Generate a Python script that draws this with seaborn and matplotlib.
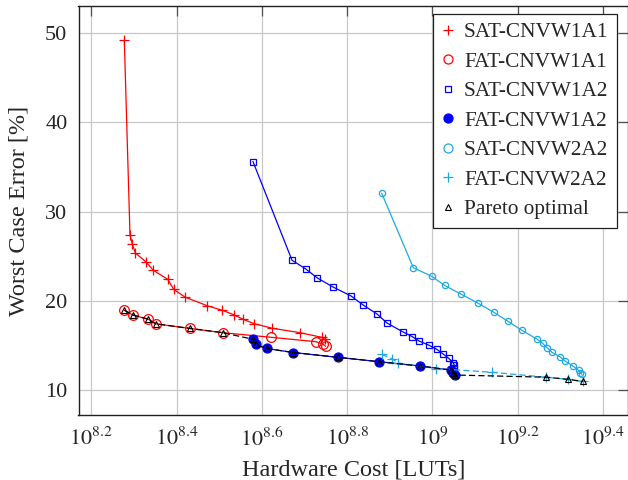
import numpy as np
import matplotlib
matplotlib.use("Agg")
import matplotlib.pyplot as plt
from matplotlib.lines import Line2D
import seaborn as sns

# Hardware cost given as exponent of 10 (LUTs), worst case error in percent
sat_w1a1_exp = [8.2774, 8.2907, 8.2961, 8.3032, 8.3276, 8.3454, 8.3791, 8.3932, 8.4204,
                8.472, 8.5072, 8.5339, 8.5557, 8.5815, 8.6244, 8.6893, 8.7402, 8.748]
sat_w1a1_err = [49.2, 27.43, 26.39, 25.38, 24.40, 23.44, 22.43, 21.31, 20.42,
                19.47, 18.96, 18.47, 17.96, 17.47, 16.95, 16.46, 15.94, 15.72]

fat_w1a1_exp = [8.2778, 8.2971, 8.3334, 8.351, 8.4319, 8.5081, 8.622, 8.7269, 8.7426, 8.7496]
fat_w1a1_err = [18.96, 18.44, 17.96, 17.45, 16.93, 16.46, 15.94, 15.45, 15.19, 14.94]

sat_w1a2_exp = [8.5791, 8.6706, 8.7027, 8.7299, 8.7667, 8.8089, 8.8371, 8.8699, 8.8933, 8.9308,
                8.952, 8.9684, 8.9918, 9.0106, 9.0239, 9.038, 9.0488, 9.0511, 9.0504]
sat_w1a2_err = [35.6, 24.56, 23.59, 22.58, 21.57, 20.57, 19.56, 18.55, 17.54, 16.54,
                16.03, 15.53, 15.05, 14.58, 14.11, 13.59, 13.10, 12.84, 12.54]

fat_w1a2_exp = [8.578, 8.5855, 8.6108, 8.6736, 8.7789, 8.8753, 8.9707, 9.0427, 9.0488, 9.0521]
fat_w1a2_err = [15.73, 15.14, 14.69, 14.24, 13.70, 13.21, 12.73, 12.28, 11.98, 11.72]

sat_w2a2_exp = [8.8809, 8.955, 8.9988, 9.0286, 9.0675, 9.1071, 9.1437, 9.177, 9.2091, 9.2445,
                9.2586, 9.2692, 9.2802, 9.2994, 9.3118, 9.3283, 9.3428, 9.347, 9.3498]
sat_w2a2_err = [32.06, 23.73, 22.75, 21.74, 20.76, 19.75, 18.74, 17.73, 16.74, 15.75,
                15.25, 14.75, 14.26, 13.74, 13.26, 12.76, 12.23, 11.97, 11.80]

fat_w2a2_exp = [8.8809, 8.9062, 8.9191, 9.0082, 9.1395, 9.2654, 9.3184, 9.3522]
fat_w2a2_err = [14.04, 13.51, 13.07, 12.45, 12.03, 11.48, 11.24, 11.00]

pareto_exp = [8.2778, 8.2971, 8.3334, 8.351, 8.4319, 8.5081,
              8.578, 8.5855, 8.6108, 8.6736, 8.7789, 8.8753, 8.9707, 9.0427, 9.0488, 9.0521,
              9.2654, 9.3184, 9.3522]
pareto_err = [18.96, 18.44, 17.96, 17.45, 16.93, 16.46,
              15.73, 15.14, 14.69, 14.24, 13.70, 13.21, 12.73, 12.28, 11.98, 11.72,
              11.48, 11.24, 11.00]

xtick_exp = [8.2, 8.4, 8.6, 8.8, 9.0, 9.2, 9.4]
xtick_labels = [r"$10^{8.2}$", r"$10^{8.4}$", r"$10^{8.6}$", r"$10^{8.8}$",
                r"$10^{9}$", r"$10^{9.2}$", r"$10^{9.4}$"]
ytick_vals = [10, 20, 30, 40, 50]

RED = "#ff0000"
BLUE = "#0000ff"
CYAN = "#1ea8e4"

sns.set_style("whitegrid", {"grid.color": "#c8c8c8", "axes.edgecolor": "#202020"})
plt.rcParams["font.family"] = ["Liberation Serif", "DejaVu Serif"]
plt.rcParams["mathtext.fontset"] = "stix"

W, H = 628, 480
left, right, top, bottom = 78.5, 628.0, 6.0, 415.0
fig = plt.figure(figsize=(W / 100, H / 100), dpi=100)
ax = fig.add_axes([left / W, (H - bottom) / H, (right - left) / W, (bottom - top) / H])

series = [
    ("SAT-CNVW1A1", sat_w1a1_exp, sat_w1a1_err,
     dict(color=RED, marker="+", markersize=6.5, markeredgecolor=RED, markeredgewidth=0.9, linestyle="-")),
    ("FAT-CNVW1A1", fat_w1a1_exp, fat_w1a1_err,
     dict(color=RED, marker="o", markersize=7, markerfacecolor="none", markeredgecolor=RED, markeredgewidth=0.9, linestyle="-")),
    ("SAT-CNVW1A2", sat_w1a2_exp, sat_w1a2_err,
     dict(color=BLUE, marker="s", markersize=4.5, markerfacecolor="none", markeredgecolor=BLUE, markeredgewidth=0.9, linestyle="-")),
    ("FAT-CNVW1A2", fat_w1a2_exp, fat_w1a2_err,
     dict(color=BLUE, marker="o", markersize=6.5, markerfacecolor=BLUE, markeredgecolor=BLUE, markeredgewidth=0.9, linestyle="-")),
    ("SAT-CNVW2A2", sat_w2a2_exp, sat_w2a2_err,
     dict(color=CYAN, marker="o", markersize=4.5, markerfacecolor="none", markeredgecolor=CYAN, markeredgewidth=0.9, linestyle="-")),
    ("FAT-CNVW2A2", fat_w2a2_exp, fat_w2a2_err,
     dict(color=CYAN, marker="+", markersize=7, markeredgecolor=CYAN, markeredgewidth=0.9, linestyle=(0, (5, 2.5)))),
    ("Pareto optimal", pareto_exp, pareto_err,
     dict(color="black", marker="^", markersize=4, markerfacecolor="none", markeredgecolor="black", markeredgewidth=0.8, linestyle=(0, (5, 2.5)))),
]

handles = []
for name, xe, ye, style in series:
    luts = np.power(10.0, np.asarray(xe))
    sns.lineplot(x=luts, y=ye, sort=False, estimator=None, linewidth=0.9, ax=ax, **style)
    handles.append(Line2D([], [], linestyle="none", marker=style["marker"],
                          markersize=style["markersize"] if style["marker"] != "o" else 6.5,
                          color=style["color"],
                          markerfacecolor=style.get("markerfacecolor", style["color"]),
                          markeredgecolor=style["markeredgecolor"],
                          markeredgewidth=style["markeredgewidth"], label=name))

ax.set_xscale("log")
ax.set_xlim(10 ** 8.17, 10 ** 9.4584)
ax.set_ylim(7.25, 53.0)
ax.set_xticks([10 ** e for e in xtick_exp])
ax.set_xticklabels(xtick_labels)
ax.xaxis.set_minor_locator(matplotlib.ticker.NullLocator())
ax.set_yticks(ytick_vals)
ax.set_yticklabels([str(v) for v in ytick_vals])

ax.grid(True, which="major", color="#c8c8c8", linewidth=0.9)
for sp in ax.spines.values():
    sp.set_color("#202020")
    sp.set_linewidth(1.0)
ax.tick_params(axis="both", which="major", direction="in", length=7, width=0.9,
               color="#505050", top=True, right=True, labelsize=16)
ax.tick_params(axis="x", pad=9)
ax.tick_params(axis="y", pad=8)

ax.set_xlabel("Hardware Cost [LUTs]", fontsize=17.5, labelpad=6)
ax.set_ylabel("Worst Case Error [%]", fontsize=17.5, labelpad=11)

leg_right = (617 - left) / (right - left)
leg_top = (bottom - 14) / (bottom - top)
leg = ax.legend(handles=handles, loc="upper right", bbox_to_anchor=(leg_right, leg_top),
                fontsize=15.3, frameon=True, fancybox=False, edgecolor="#202020",
                framealpha=1.0, handlelength=0.6, handletextpad=0.45, labelspacing=0.45,
                borderpad=0.4, borderaxespad=0.0)
leg.get_frame().set_linewidth(0.9)

fig.savefig("out.png", dpi=100)
